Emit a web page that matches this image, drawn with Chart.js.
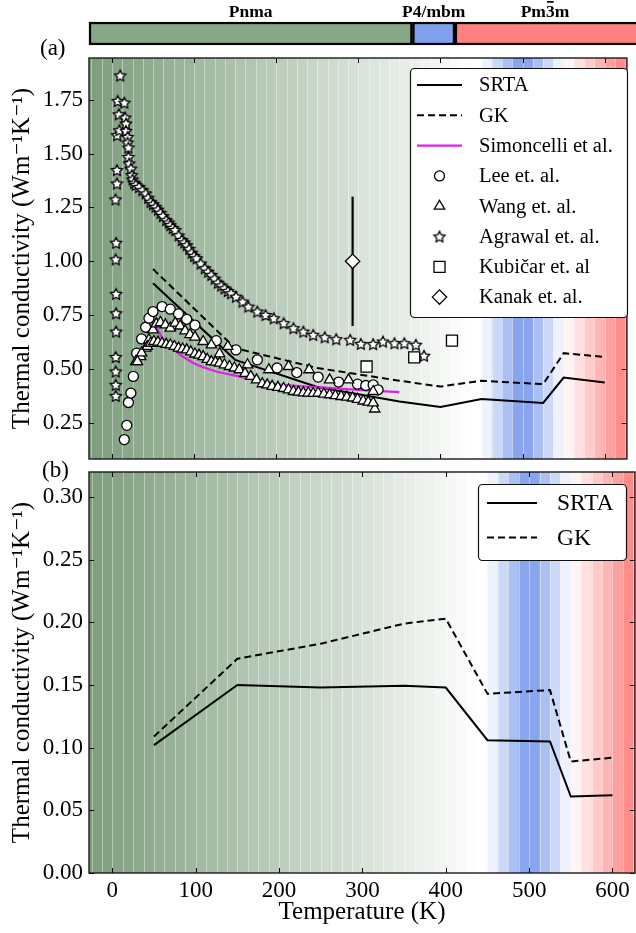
<!DOCTYPE html>
<html>
<head>
<meta charset="utf-8">
<script src="https://cdn.jsdelivr.net/npm/chart.js@4.4.0/dist/chart.umd.min.js"></script>
<style>
  body { margin: 0; background: #fff; width: 636px; height: 933px; position: relative; overflow: hidden; font-family: 'Liberation Serif', serif; }
  canvas { position: absolute; left: 0; }
  .tag { position: absolute; font-size: 23px; line-height: 26px; white-space: nowrap; }
</style>
</head>
<body>
<canvas id="phase" width="636" height="56" style="top:0"></canvas>
<canvas id="panelA" width="636" height="430" style="top:40px"></canvas>
<canvas id="panelB" width="636" height="473" style="top:460px"></canvas>
<div class="tag" style="left:40px;top:35px">(a)</div>
<div class="tag" style="left:42px;top:457px">(b)</div>
<script>
// --- axes ---
const xTicks = [0, 100, 200, 300, 400, 500, 600];
const yTicksA = [0.25, 0.50, 0.75, 1.00, 1.25, 1.50, 1.75];
const yTicksB = [0.00, 0.05, 0.10, 0.15, 0.20, 0.25, 0.30];

// --- phase bar ---
const phaseNames = ['Pnma', 'P4/mbm', 'Pm3m'];
const phaseStart = [-28, 360, 411];
const phaseEnd = [360, 411, 640];
const phaseColors = ['#86a886', '#80a0ec', '#ff8080'];

// --- calculations (same temperatures in both panels) ---
const calcT = [50, 150, 250, 350, 400, 450, 525, 550, 600];
const srtaA = [0.898, 0.543, 0.417, 0.350, 0.324, 0.361, 0.343, 0.461, 0.438];
const gkA   = [0.964, 0.597, 0.505, 0.446, 0.419, 0.446, 0.430, 0.574, 0.556];
const srtaB = [0.102, 0.150, 0.148, 0.1495, 0.148, 0.106, 0.105, 0.061, 0.062];
const gkB   = [0.109, 0.171, 0.183, 0.199, 0.203, 0.143, 0.146, 0.089, 0.092];

const simT = [50, 63, 75, 99, 127, 150, 200, 250, 300, 350];
const simK = [0.720, 0.636, 0.590, 0.528, 0.489, 0.470, 0.430, 0.416, 0.404, 0.393];

// --- experiments ---
const leeT = [15, 18, 20, 23, 26, 30, 36, 41, 45, 50, 61, 71, 81, 91, 101, 127, 151, 177, 201, 225, 251, 276, 299, 309, 318, 324];
const leeK = [0.173, 0.239, 0.345, 0.389, 0.466, 0.574, 0.640, 0.694, 0.736, 0.767, 0.790, 0.778, 0.756, 0.731, 0.704, 0.632, 0.589, 0.543, 0.505, 0.484, 0.463, 0.440, 0.430, 0.424, 0.427, 0.404];

const wangT = [29, 35, 41, 45, 50, 54, 59, 65, 71, 77, 83, 89, 95, 101, 111, 121, 131, 141, 165, 191, 215, 240, 265, 288, 318, 320,
  31, 36, 43, 47, 51, 56, 61, 66, 71, 76, 81, 86, 91, 96, 101, 106, 111, 116, 121, 126, 131, 137, 143, 149, 155, 162, 169, 176,
  183, 189, 195, 202, 209, 215, 221, 227, 233, 239, 245, 251, 258, 265, 272, 279, 286, 293, 299, 306, 312, 318];
const wangK = [0.535, 0.558, 0.597, 0.636, 0.682, 0.710, 0.716, 0.705, 0.690, 0.713, 0.700, 0.677, 0.660, 0.648, 0.628, 0.612, 0.571, 0.605, 0.520, 0.497, 0.512, 0.497, 0.450, 0.450, 0.396, 0.315,
  0.535, 0.575, 0.605, 0.620, 0.628, 0.625, 0.620, 0.615, 0.612, 0.605, 0.597, 0.593, 0.589, 0.580, 0.570, 0.565, 0.558, 0.545, 0.535, 0.532, 0.528, 0.520, 0.512, 0.505, 0.497, 0.480, 0.466, 0.450,
  0.432, 0.427, 0.420, 0.415, 0.410, 0.404, 0.396, 0.393, 0.390, 0.389, 0.387, 0.389, 0.384, 0.381, 0.377, 0.373, 0.370, 0.366, 0.360, 0.352, 0.347, 0.343];

const agrawalT = [4.5, 4.5, 4.5, 4.5, 5, 5, 5, 4.5, 5, 4.3, 6, 6, 6.3, 7, 8.3, 9, 10,
  15, 16, 17, 17, 19, 19, 20, 20, 21, 23, 24, 25, 27, 29, 33, 37, 41, 44, 47, 50, 53, 56, 59, 62, 66, 69, 71, 74, 77, 81, 85, 88, 91, 94, 97, 100, 103, 108,
  113, 117, 121, 125, 129, 133, 137, 141, 145, 151, 159, 166, 177, 187, 197, 209, 221, 233, 245, 259, 273, 290, 303, 318, 330, 344, 356, 370, 380];
const agrawalK = [0.376, 0.427, 0.489, 0.556, 0.674, 0.759, 0.849, 1.009, 1.086, 1.287, 1.361, 1.423, 1.585, 1.744, 1.682, 1.608, 1.862,
  1.736, 1.667, 1.639, 1.605, 1.577, 1.551, 1.528, 1.484, 1.454, 1.430, 1.400, 1.380, 1.364, 1.355, 1.345, 1.330, 1.315, 1.295, 1.276, 1.265, 1.253, 1.240, 1.225, 1.210, 1.191, 1.180, 1.168, 1.155, 1.145, 1.120, 1.099, 1.088, 1.075, 1.058, 1.040, 1.025, 1.014, 0.990,
  0.968, 0.952, 0.937, 0.920, 0.901, 0.888, 0.875, 0.862, 0.852, 0.836, 0.813, 0.790, 0.767, 0.751, 0.736, 0.713, 0.690, 0.674, 0.659, 0.648, 0.639, 0.636, 0.617, 0.616, 0.628, 0.620, 0.620, 0.613, 0.562];

const kubicarT = [310, 368, 414];
const kubicarK = [0.512, 0.554, 0.632];

const kanakT = [293];
const kanakK = [1.00];
const kanakErr = [0.30];

// --- look ---
const FONT = "'Liberation Serif', 'DejaVu Serif', serif";
Chart.defaults.font.family = FONT;
Chart.defaults.color = '#000';
const X_MIN = -28, X_MAX = 627;
const GREEN = [124, 157, 124], BLUE = [120, 152, 234], RED = [255, 128, 128];

const pts = (xs, ys) => xs.map((x, i) => ({ x: x, y: ys[i] }));
const clamp01 = v => Math.max(0, Math.min(1, v));

function starImage(r) {
    const c = document.createElement('canvas');
    const s = Math.ceil(r * 2 + 4);
    c.width = s; c.height = s;
    const g = c.getContext('2d');
    g.beginPath();
    for (let i = 0; i < 10; i++) {
        const rr = i % 2 === 0 ? r : r * 0.5;
        const a = -Math.PI / 2 + i * Math.PI / 5;
        const px = s / 2 + rr * Math.cos(a), py = s / 2 + 0.6 + rr * Math.sin(a);
        if (i === 0) g.moveTo(px, py); else g.lineTo(px, py);
    }
    g.closePath();
    g.fillStyle = '#fff'; g.fill();
    g.lineJoin = 'miter';
    g.lineWidth = 1.3; g.strokeStyle = '#000'; g.stroke();
    return c;
}
const STAR = starImage(5.8);

function bandColor(t) {
    let base, a;
    if (t < 447) { base = GREEN; a = clamp01((440 - t) / 468); }
    else if (t < 551) { base = BLUE; a = clamp01(1 - Math.abs(t - 500) / 50); }
    else { base = RED; a = clamp01((t - 550) / 75); }
    const m = k => Math.round(255 + (base[k] - 255) * a);
    return `rgb(${m(0)},${m(1)},${m(2)})`;
}

// striped background + error bars, under the datasets
const backdrop = {
    id: 'backdrop',
    beforeDatasetsDraw(chart) {
        const { ctx, chartArea: a, scales } = chart;
        const x = scales.x;
        ctx.save();
        ctx.beginPath();
        ctx.rect(a.left, a.top, a.right - a.left, a.bottom - a.top);
        ctx.clip();
        for (let t = -37.5; t < 640; t += 12.5) {
            const p0 = x.getPixelForValue(t), p1 = x.getPixelForValue(t + 12.5);
            ctx.fillStyle = bandColor(t + 6.25);
            ctx.fillRect(p0, a.top, p1 - p0 + 0.5, a.bottom - a.top);
        }
        ctx.strokeStyle = 'rgba(255,255,255,0.38)';
        ctx.lineWidth = 1;
        for (let t = -37.5; t < 640; t += 12.5) {
            const p = Math.round(x.getPixelForValue(t)) + 0.5;
            ctx.beginPath(); ctx.moveTo(p, a.top); ctx.lineTo(p, a.bottom); ctx.stroke();
        }
        const err = chart.options.plugins.backdrop.errors;
        if (err) {
            ctx.strokeStyle = '#000';
            ctx.lineWidth = 2.2;
            err.xs.forEach((xv, i) => {
                const px = x.getPixelForValue(xv);
                ctx.beginPath();
                ctx.moveTo(px, scales.y.getPixelForValue(err.ys[i] - err.es[i]));
                ctx.lineTo(px, scales.y.getPixelForValue(err.ys[i] + err.es[i]));
                ctx.stroke();
            });
        }
        ctx.restore();
    }
};

// frame with inward ticks on all sides
const frame = {
    id: 'frame',
    afterDatasetsDraw(chart) {
        const { ctx, chartArea: a, scales } = chart;
        ctx.save();
        ctx.strokeStyle = '#000';
        ctx.lineWidth = 1;
        const seg = (x0, y0, x1, y1) => { ctx.beginPath(); ctx.moveTo(x0, y0); ctx.lineTo(x1, y1); ctx.stroke(); };
        scales.x.ticks.forEach(t => {
            const p = Math.round(scales.x.getPixelForValue(t.value)) + 0.5;
            seg(p, a.bottom, p, a.bottom - 5);
            seg(p, a.top, p, a.top + 5);
        });
        scales.y.ticks.forEach(t => {
            const p = Math.round(scales.y.getPixelForValue(t.value)) + 0.5;
            seg(a.left, p, a.left + 5, p);
            seg(a.right, p, a.right - 5, p);
        });
        ctx.strokeStyle = '#1a1a1a';
        ctx.lineWidth = 1.4;
        ctx.strokeRect(a.left, a.top, a.right - a.left, a.bottom - a.top);
        ctx.restore();
    }
};

function drawMarker(ctx, ds, x, y) {
    const style = ds.pointStyle, r = ds.pointRadius;
    if (style instanceof HTMLCanvasElement) {
        ctx.drawImage(style, x - style.width / 2, y - style.height / 2);
        return;
    }
    ctx.beginPath();
    if (style === 'circle') ctx.arc(x, y, r, 0, Math.PI * 2);
    else if (style === 'triangle') {
        for (let i = 0; i < 3; i++) {
            const ang = i * 2 * Math.PI / 3;
            const px = x + Math.sin(ang) * r, py = y - Math.cos(ang) * r;
            if (i === 0) ctx.moveTo(px, py); else ctx.lineTo(px, py);
        }
        ctx.closePath();
    } else if (style === 'rect') {
        const s = r * Math.SQRT1_2;
        ctx.rect(x - s, y - s, 2 * s, 2 * s);
    } else if (style === 'rectRot') {
        ctx.moveTo(x - r, y); ctx.lineTo(x, y - r); ctx.lineTo(x + r, y); ctx.lineTo(x, y + r); ctx.closePath();
    }
    ctx.fillStyle = ds.pointBackgroundColor;
    ctx.fill();
    ctx.lineWidth = ds.pointBorderWidth;
    ctx.strokeStyle = ds.pointBorderColor;
    ctx.stroke();
}

// legend in a rounded white box inside the plot
const boxLegend = {
    id: 'boxLegend',
    afterDraw(chart) {
        const o = chart.options.plugins.boxLegend;
        const { ctx } = chart;
        ctx.save();
        ctx.beginPath();
        ctx.roundRect(o.box[0] + 0.5, o.box[1] + 0.5, o.box[2] - o.box[0], o.box[3] - o.box[1], 4);
        ctx.fillStyle = '#fff';
        ctx.fill();
        ctx.lineWidth = 1.2;
        ctx.strokeStyle = '#111';
        ctx.stroke();
        ctx.font = o.fontSize + 'px ' + FONT;
        ctx.textBaseline = 'middle';
        ctx.textAlign = 'left';
        chart.data.datasets.forEach((ds, i) => {
            const y = o.rowY0 + i * o.rowDy;
            if (ds.showLine) {
                ctx.strokeStyle = ds.borderColor;
                ctx.lineWidth = ds.borderWidth;
                ctx.setLineDash(ds.borderDash || []);
                ctx.beginPath(); ctx.moveTo(o.lineX[0], y); ctx.lineTo(o.lineX[1], y); ctx.stroke();
                ctx.setLineDash([]);
            } else {
                drawMarker(ctx, ds, (o.lineX[0] + o.lineX[1]) / 2, y);
            }
            ctx.fillStyle = '#000';
            ctx.fillText(ds.label, o.textX, y + 1);
        });
        ctx.restore();
    }
};

const fixedTicks = vals => scale => { scale.ticks = vals.map(v => ({ value: v })); };
const noPad = s => { s.paddingLeft = 0; s.paddingRight = 0; s.paddingTop = 0; s.paddingBottom = 0; };

function lineSet(label, data, dash, color, width, order) {
    return {
        label: label, data: data, showLine: true, borderColor: color, backgroundColor: color,
        borderWidth: width, borderDash: dash, pointRadius: 0, pointHoverRadius: 0, order: order
    };
}
function markSet(label, data, style, radius, order) {
    return {
        label: label, data: data, showLine: false, pointStyle: style, pointRadius: radius, pointHoverRadius: radius,
        pointBackgroundColor: '#fff', pointBorderColor: '#000', pointBorderWidth: 1.3,
        backgroundColor: '#fff', borderColor: '#000', order: order
    };
}

function axes(yMin, yMax, yTicks, showX) {
    return {
        x: {
            type: 'linear', min: X_MIN, max: X_MAX,
            afterBuildTicks: fixedTicks(xTicks),
            grid: { display: false, drawTicks: false },
            border: { display: false },
            ticks: { display: showX, font: { size: 23 }, padding: 4, maxRotation: 0, autoSkip: false },
            title: { display: showX, text: 'Temperature (K)', font: { size: 25 }, padding: { top: 0, bottom: 6 } },
            afterFit: s => { s.height = showX ? 60 : 0; noPad(s); }
        },
        y: {
            type: 'linear', min: yMin, max: yMax,
            afterBuildTicks: fixedTicks(yTicks),
            grid: { display: false, drawTicks: false },
            border: { display: false },
            ticks: { font: { size: 23 }, padding: 6, callback: v => v.toFixed(2) },
            title: { display: true, text: 'Thermal conductivity (Wm\u207B\u00B9K\u207B\u00B9)', font: { size: 25 }, padding: { top: 7, bottom: 0 } },
            afterFit: s => { s.width = 89; noPad(s); }
        }
    };
}

// --- phase bar ---
new Chart(document.getElementById('phase'), {
    type: 'bar',
    data: {
        labels: ['phase'],
        datasets: phaseNames.map((n, i) => ({
            label: n, data: [[phaseStart[i], phaseEnd[i]]], grouped: false,
            backgroundColor: phaseColors[i], borderColor: '#000', borderWidth: 2.5, borderSkipped: false,
            barPercentage: 1, categoryPercentage: 1, clip: false
        }))
    },
    options: {
        indexAxis: 'y', responsive: false, animation: false, devicePixelRatio: 1, events: [],
        layout: { padding: { left: 89, right: 1, top: 22, bottom: 11 } },
        scales: { x: { display: false, min: X_MIN, max: X_MAX }, y: { display: false } },
        plugins: { legend: { display: false }, tooltip: { enabled: false } }
    },
    plugins: [{
        id: 'phaseLabels',
        afterDraw(chart) {
            const { ctx, scales } = chart;
            ctx.save();
            ctx.font = 'bold 17.5px ' + FONT;
            ctx.textBaseline = 'alphabetic';
            ctx.fillStyle = '#000';
            phaseNames.forEach((n, i) => {
                const cx = scales.x.getPixelForValue((phaseStart[i] + Math.min(phaseEnd[i], X_MAX)) / 2);
                const w = ctx.measureText(n).width;
                const x0 = cx - w / 2;
                ctx.textAlign = 'left';
                ctx.fillText(n, x0, 17);
                if (n === 'Pm3m') {
                    const a = ctx.measureText('Pm').width, b = ctx.measureText('Pm3').width;
                    ctx.fillRect(x0 + a + 1, 1, b - a - 2, 1.7);
                }
            });
            ctx.restore();
        }
    }]
});

// --- panel (a) ---
new Chart(document.getElementById('panelA'), {
    type: 'scatter',
    data: {
        datasets: [
            lineSet('SRTA', pts(calcT, srtaA), [], '#000', 2, 8),
            lineSet('GK', pts(calcT, gkA), [7, 4], '#000', 2, 7),
            Object.assign(lineSet('Simoncelli et al.', pts(simT, simK), [], '#e31fe3', 2.2, 6), { cubicInterpolationMode: 'monotone' }),
            markSet('Lee et. al.', pts(leeT, leeK), 'circle', 5, 5),
            markSet('Wang et. al.', pts(wangT, wangK), 'triangle', 6, 4),
            markSet('Agrawal et. al.', pts(agrawalT, agrawalK), STAR, 5.8, 3),
            markSet('Kubi\u010Dar et. al', pts(kubicarT, kubicarK), 'rect', 7.8, 2),
            markSet('Kanak et. al.', pts(kanakT, kanakK), 'rectRot', 7.2, 1)
        ]
    },
    options: {
        responsive: false, animation: false, devicePixelRatio: 1, events: [],
        layout: { padding: { left: 0, right: 1, top: 18, bottom: 11 } },
        scales: axes(0.083, 1.943, yTicksA, false),
        plugins: {
            legend: { display: false }, tooltip: { enabled: false },
            backdrop: { errors: { xs: kanakT, ys: kanakK, es: kanakErr } },
            boxLegend: { box: [410, 28, 627, 277], rowY0: 45, rowDy: 30.3, lineX: [417, 462], textX: 479, fontSize: 20.5 }
        }
    },
    plugins: [backdrop, frame, boxLegend]
});

// --- panel (b) ---
new Chart(document.getElementById('panelB'), {
    type: 'scatter',
    data: {
        datasets: [
            lineSet('SRTA', pts(calcT, srtaB), [], '#000', 2, 2),
            lineSet('GK', pts(calcT, gkB), [7, 4], '#000', 2, 1)
        ]
    },
    options: {
        responsive: false, animation: false, devicePixelRatio: 1, events: [],
        layout: { padding: { left: 0, right: 1, top: 12, bottom: 0 } },
        scales: axes(0, 0.32, yTicksB, true),
        plugins: {
            legend: { display: false }, tooltip: { enabled: false },
            backdrop: {},
            boxLegend: { box: [478, 24, 626, 100], rowY0: 43, rowDy: 34.6, lineX: [487, 537], textX: 557, fontSize: 23.5 }
        }
    },
    plugins: [backdrop, frame, boxLegend]
});
</script>
</body>
</html>
